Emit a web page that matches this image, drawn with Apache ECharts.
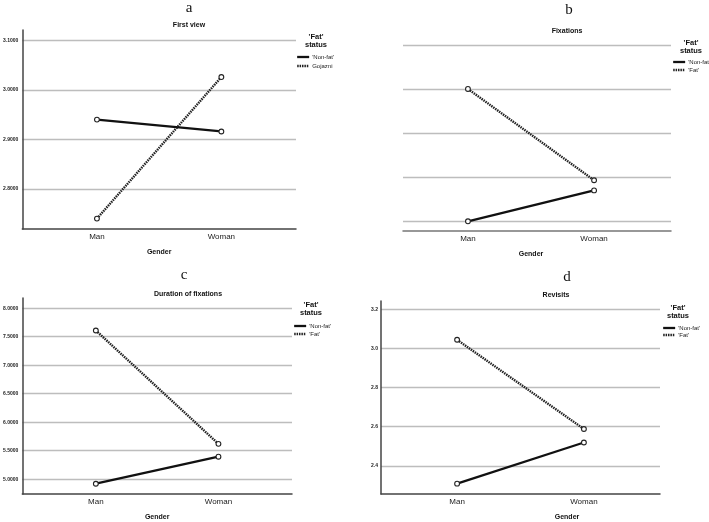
<!DOCTYPE html>
<html><head><meta charset="utf-8">
<script src="https://cdn.jsdelivr.net/npm/echarts@6/dist/echarts.min.js"></script>
<style>html,body{margin:0;padding:0;background:#fff}#c{width:709px;height:522px}</style>
</head><body><div id="c"></div><script>
// ---- data ----
const categories = ['Man', 'Woman'];
const namesA = ["'Non-fat'", 'Gojazni'];
const namesBCD = ["'Non-fat'", "'Fat'"];
const aNonFat = [2.940, 2.916];
const aFat = [2.740, 3.026];
const bNonFat = [1.00, 1.70];
const bFat = [4.00, 1.93];
const cNonFat = [4.92, 5.395];
const cFat = [7.61, 5.62];
const dNonFat = [2.309, 2.519];
const dFat = [3.044, 2.588];
const aTicks = [2.8, 2.9, 3.0, 3.1];
const bTicks = [1, 2, 3, 4, 5];
const cTicks = [5.0, 5.5, 6.0, 6.5, 7.0, 7.5, 8.0];
const dTicks = [2.4, 2.6, 2.8, 3.0, 3.2];
const panelTitles = ['First view', 'Fixations', 'Duration of fixations', 'Revisits'];
const panelLetters = ['a', 'b', 'c', 'd'];
const xName = 'Gender';
const legendTitle = "'Fat'\nstatus";

// ---- layout ----
const panels = [
  {names: namesA, nf: aNonFat, f: aFat, ticks: aTicks, dec: 4, showY: true,
   grid: {left: 21, top: 30, width: 275, height: 199}, ymin: 2.719, ymax: 3.121, xmin: -0.6, xmax: 1.6,
   letter: [189, 8], title: [189, 25], lt: [316, 37], leg: [296, 57, 66], namePad: [0, 0, 0, 0], axisColor: '#444'},
  {names: namesBCD, nf: bNonFat, f: bFat, ticks: bTicks, dec: 0, showY: false,
   grid: {left: 403, top: 36, width: 268, height: 195}, ymin: 0.78, ymax: 5.2, xmin: -0.515, xmax: 1.61,
   letter: [569, 10.5], title: [567, 31], lt: [691, 43], leg: [672, 62, 70], namePad: [0, 12, 0, 0], axisColor: '#777'},
  {names: namesBCD, nf: cNonFat, f: cFat, ticks: cTicks, dec: 4, showY: true,
   grid: {left: 22, top: 298, width: 270, height: 196}, ymin: 4.74, ymax: 8.18, xmin: -0.6, xmax: 1.6,
   letter: [184, 275.5], title: [188, 294], lt: [311, 305], leg: [293, 326, 334], namePad: [0, 0, 0, 0], axisColor: '#444'},
  {names: namesBCD, nf: dNonFat, f: dFat, ticks: dTicks, dec: 1, showY: true,
   grid: {left: 381, top: 301, width: 279, height: 194}, ymin: 2.256, ymax: 3.242, xmin: -0.6, xmax: 1.6,
   letter: [567, 277.5], title: [556, 295], lt: [678, 308], leg: [662, 328, 335], namePad: [0, 0, 0, 93], axisColor: '#444'}
];

const FONT = 'Liberation Sans, Arial, sans-serif';
const solidStyle = {color: '#111', width: 2.3, type: 'solid'};
const dashStyle = {color: '#222', width: 2.4, type: [1.5, 0.9]};
const option = {backgroundColor: '#fff', animation: false, grid: [], xAxis: [], yAxis: [], series: [], legend: [], graphic: []};

panels.forEach((p, i) => {
  option.grid.push(Object.assign({containLabel: false}, p.grid));
  option.xAxis.push({
    type: 'value', gridIndex: i, min: p.xmin, max: p.xmax,
    name: xName, nameLocation: 'middle', nameGap: 20,
    nameTextStyle: {fontFamily: FONT, fontSize: 7, fontWeight: 'bold', color: '#111', padding: p.namePad},
    axisLine: {show: true, onZero: false, lineStyle: {color: p.axisColor, width: 1.5}},
    axisTick: {show: false, customValues: [0, 1]},
    axisLabel: {customValues: [0, 1], formatter: v => categories[Math.round(v)] || '',
      fontFamily: FONT, fontSize: 8, color: '#222', margin: 4},
    splitLine: {show: false}
  });
  option.yAxis.push({
    type: 'value', gridIndex: i, min: p.ymin, max: p.ymax,
    axisLine: {show: p.showY, onZero: false, lineStyle: {color: '#444', width: 1.5}},
    axisTick: {show: false, customValues: p.ticks},
    axisLabel: {show: p.showY, customValues: p.ticks, formatter: v => Number(v).toFixed(p.dec),
      fontFamily: FONT, fontSize: 5, fontWeight: 'bold', color: '#222', margin: p.dec === 1 ? 3 : 4},
    splitLine: {show: true, customValues: p.ticks, lineStyle: {color: '#bdbdbd', width: 1.3}}
  });
  const mk = (name, vals, dashed) => ({
    type: 'line', name: name, xAxisIndex: i, yAxisIndex: i,
    data: categories.map((c, k) => [k, vals[k]]),
    symbol: 'circle', symbolSize: 4.8,
    itemStyle: {color: '#fff', borderColor: '#222', borderWidth: 1.1},
    lineStyle: dashed ? dashStyle : solidStyle,
    z: dashed ? 3 : 4
  });
  option.series.push(mk(p.names[0], p.nf, false));
  option.series.push(mk(p.names[1], p.f, true));
  [0, 1].forEach(k => {
    option.legend.push({
      data: [p.names[k]],
      orient: 'vertical', left: p.leg[0], top: p.leg[1 + k] - 3,
      itemWidth: 12, itemHeight: 6, padding: 0, selectedMode: false,
      itemStyle: {color: 'transparent', borderColor: 'transparent', borderWidth: 0, opacity: 0},
      lineStyle: k === 0 ? solidStyle : dashStyle,
      textStyle: {fontFamily: FONT, fontSize: 6, lineHeight: 6, color: '#222', padding: [0, 0, 0, -2]}
    });
  });
  option.graphic.push({type: 'text', x: p.letter[0], y: p.letter[1],
    style: {text: panelLetters[i], font: '15px "Liberation Serif", "Times New Roman", serif', fill: '#111',
      textAlign: 'center', textVerticalAlign: 'middle'}});
  option.graphic.push({type: 'text', x: p.title[0], y: p.title[1],
    style: {text: panelTitles[i], font: 'bold 7px ' + FONT, fill: '#111', textAlign: 'center', textVerticalAlign: 'middle'}});
  option.graphic.push({type: 'text', x: p.lt[0], y: p.lt[1] - 4,
    style: {text: legendTitle, font: 'bold 7.5px ' + FONT, fill: '#111', textAlign: 'center', textVerticalAlign: 'top', lineHeight: 8}});
});

const chart = echarts.init(document.getElementById('c'), null, {renderer: 'canvas'});
chart.setOption(option);
</script></body></html>
